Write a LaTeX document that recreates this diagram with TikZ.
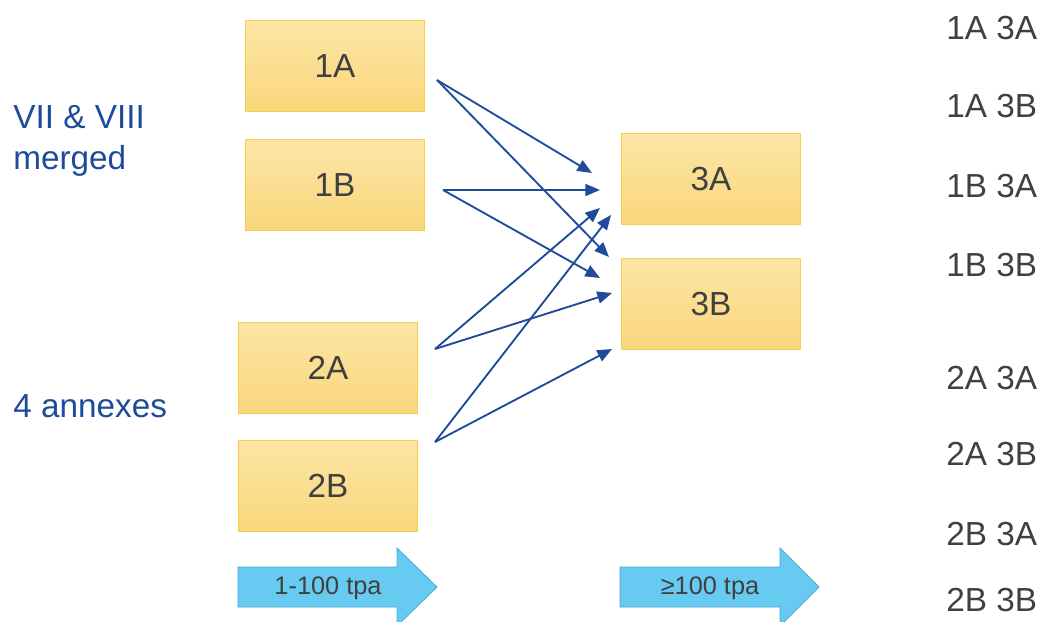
\documentclass[tikz,border=0pt]{standalone}
\usepackage{fontspec}
\setmainfont{Liberation Sans}
\usepackage{tikz}
\usetikzlibrary{arrows.meta}
\definecolor{boxtop}{HTML}{FCE5A6}
\definecolor{boxbot}{HTML}{F9D77B}
\definecolor{boxline}{HTML}{F8CF4A}
\definecolor{linkblue}{HTML}{1F4B9B}
\definecolor{txtgray}{HTML}{404040}
\definecolor{tpablue}{HTML}{66CAF1}
\definecolor{tpaline}{HTML}{4AA8D2}

\begin{document}
\begin{tikzpicture}[x=0.75pt,y=-0.75pt,
  gbox/.style={draw=boxline, line width=0.8pt, top color=boxtop, bottom color=boxbot,
    minimum width=134pt, minimum height=68pt, text=txtgray, font=\fontsize{25}{30}\selectfont},
  pair/.style={anchor=base west, inner sep=0pt, text=txtgray, font=\fontsize{25}{30}\selectfont},
  side/.style={inner sep=0pt, text=linkblue, align=left, font=\fontsize{25}{31}\selectfont},
  tpa/.style={inner sep=0pt, text=txtgray, font=\fontsize{19}{23}\selectfont},
  band/.style={fill=tpablue, draw=tpaline, line width=0.6pt},
  link/.style={draw=linkblue, line width=1.4pt, -{Triangle[length=11pt,width=9pt]}}]
\clip (0,0) rectangle (1041,621);
\useasboundingbox (0,0) rectangle (1041,621);

\node[gbox] (1A) at (335,66) {1A};
\node[gbox] (1B) at (335,185) {1B};
\node[gbox] (2A) at (328,368) {2A};
\node[gbox] (2B) at (328,486) {2B};
\node[gbox] (3A) at (711,179) {3A};
\node[gbox] (3B) at (711,304) {3B};

\node[side, anchor=north west] (merged) at (13,105) {VII \& VIII\\merged};
\node[side, anchor=base west] (annex) at (13,417) {4 annexes};

\node[pair] (p1) at (946,39) {1A 3A};
\node[pair] (p2) at (946,117) {1A 3B};
\node[pair] (p3) at (946,197) {1B 3A};
\node[pair] (p4) at (946,276) {1B 3B};
\node[pair] (p5) at (946,389) {2A 3A};
\node[pair] (p6) at (946,465) {2A 3B};
\node[pair] (p7) at (946,545) {2B 3A};
\node[pair] (p8) at (946,611) {2B 3B};

\coordinate (s1A) at (437,80);
\coordinate (s1B) at (443,190);
\coordinate (s2A) at (435,349);
\coordinate (s2B) at (435,442);
\coordinate (t1A3A) at (592,173);
\coordinate (t1A3B) at (609,257);
\coordinate (t1B3A) at (600,190);
\coordinate (t1B3B) at (600,278);
\coordinate (t2A3A) at (600,208);
\coordinate (t2A3B) at (612,293);
\coordinate (t2B3A) at (611,215);
\coordinate (t2B3B) at (612,349);
\draw[link] (s1A) -- (t1A3A);
\draw[link] (s1A) -- (t1A3B);
\draw[link] (s1B) -- (t1B3A);
\draw[link] (s1B) -- (t1B3B);
\draw[link] (s2A) -- (t2A3A);
\draw[link] (s2A) -- (t2A3B);
\draw[link] (s2B) -- (t2B3A);
\draw[link] (s2B) -- (t2B3B);

\draw[band] (238,567) -- (397,567) -- (397,548) -- (437,587) -- (397,626) -- (397,607) -- (238,607) -- cycle;
\node[tpa] (low) at (328,588) {1-100 tpa};
\draw[band] (620,567) -- (780,567) -- (780,548) -- (819,587) -- (780,626) -- (780,607) -- (620,607) -- cycle;
\node[tpa] (high) at (710,588) {≥100 tpa};
\end{tikzpicture}
\end{document}
